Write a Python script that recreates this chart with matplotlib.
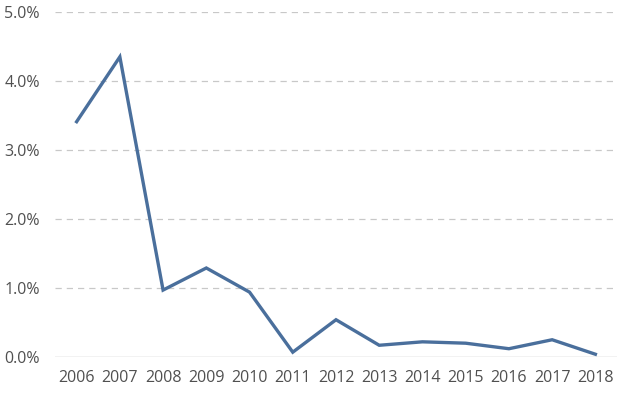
import matplotlib
matplotlib.use("Agg")
import matplotlib.pyplot as plt
from matplotlib.ticker import FuncFormatter

years = ["2006", "2007", "2008", "2009", "2010", "2011", "2012",
         "2013", "2014", "2015", "2016", "2017", "2018"]
rate = [3.41, 4.35, 0.97, 1.29, 0.94, 0.07, 0.54,
        0.17, 0.22, 0.20, 0.12, 0.25, 0.04]   # percent
yticks = [0, 1, 2, 3, 4, 5]

plt.rcParams["font.family"] = ["Open Sans", "DejaVu Sans"]
TXT = "#505050"

fig = plt.figure(figsize=(6.32, 3.94), dpi=100)
ax = fig.add_axes([55 / 632, 1 - 357 / 394, 562 / 632, 345 / 394])

x = range(len(years))
ax.plot(x, rate, color="#4A6F9C", lw=2.4, solid_joinstyle="miter")

ax.set_xlim(-0.5, len(years) - 0.5)
ax.set_ylim(0, 5)
ax.set_yticks(yticks)
ax.yaxis.set_major_formatter(FuncFormatter(lambda v, _: f"{v:.1f}%"))
ax.set_xticks(list(x))
ax.set_xticklabels(years)

for v in yticks[1:]:
    ax.axhline(v, color="#C8C8C8", lw=0.9, ls=(0, (5, 4)), zorder=0)
ax.axhline(0, color="#BDBDBD", lw=1.0, zorder=0)

for s in ax.spines.values():
    s.set_visible(False)
ax.tick_params(length=0, labelsize=11.5, colors=TXT)
ax.tick_params(axis="x", pad=9)
ax.tick_params(axis="y", pad=11)

fig.savefig("out.png", dpi=100)
